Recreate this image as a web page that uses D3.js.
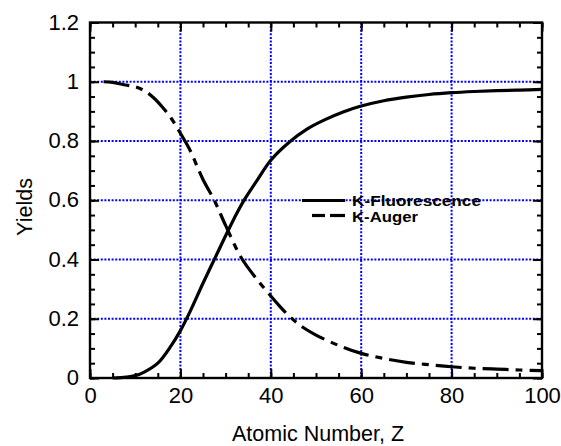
<!DOCTYPE html>
<html>
<head>
<meta charset="utf-8">
<script src="https://cdn.jsdelivr.net/npm/d3@7"></script>
<style>
  html, body { margin: 0; padding: 0; background: #fff; }
  svg { display: block; font-family: "Liberation Sans", Arial, sans-serif; }
</style>
</head>
<body>
<svg id="chart" width="561" height="446"></svg>
<script>
// ---- data ----
const zFluor = [5, 8, 10, 12, 15, 18, 20, 22, 25, 27.5, 30, 32, 34, 37, 40, 44, 48, 52, 56, 60, 65, 70, 75, 80, 85, 90, 95, 100];
const fluor  = [0, 0.003, 0.008, 0.02, 0.05, 0.11, 0.16, 0.22, 0.32, 0.40, 0.48, 0.542, 0.598, 0.668, 0.735, 0.795, 0.84, 0.872, 0.898, 0.918, 0.936, 0.948, 0.957, 0.963, 0.967, 0.970, 0.972, 0.974];
const zAuger = [3, 5, 7.5, 10, 12, 14, 16, 18, 20, 22, 25, 27.5, 30, 33.5, 37, 40, 42, 44, 47, 50, 55, 60, 65, 70, 75, 80, 85, 90, 95, 100];
const auger  = [1.0, 0.998, 0.99, 0.983, 0.97, 0.947, 0.915, 0.876, 0.826, 0.773, 0.67, 0.60, 0.515, 0.405, 0.332, 0.277, 0.242, 0.21, 0.172, 0.145, 0.11, 0.083, 0.066, 0.053, 0.045, 0.038, 0.033, 0.03, 0.027, 0.025];
const seriesNames = ["K-Fluorescence", "K-Auger"];
const xTickValues = [0, 20, 40, 60, 80, 100];
const xTickLabels = ["0", "20", "40", "60", "80", "100"];
const yTickValues = [0, 0.2, 0.4, 0.6, 0.8, 1, 1.2];
const yTickLabels = ["0", "0.2", "0.4", "0.6", "0.8", "1", "1.2"];
const xTitle = "Atomic Number, Z";
const yTitle = "Yields";

// ---- layout ----
const L = 90, R = 542, T = 22.5, B = 378;
const svg = d3.select("#chart");
const x = d3.scaleLinear().domain([0, 100]).range([L, R]);
const y = d3.scaleLinear().domain([0, 1.2]).range([B, T]);

// grid
const gridX = xTickValues.filter(v => v > 0 && v < 100);
const gridY = yTickValues.filter(v => v > 0 && v < 1.2);
const grid = svg.append("g").attr("stroke", "#0000ff").attr("stroke-width", 2).attr("stroke-dasharray", "2,1.6");
grid.selectAll("line.gx").data(gridX).join("line")
  .attr("x1", d => x(d)).attr("x2", d => x(d)).attr("y1", T).attr("y2", B);
grid.selectAll("line.gy").data(gridY).join("line")
  .attr("y1", d => y(d)).attr("y2", d => y(d)).attr("x1", L).attr("x2", R);

// curves
const line = d3.line().x(d => x(d[0])).y(d => y(d[1])).curve(d3.curveCatmullRom.alpha(0.5));
svg.append("path").datum(zFluor.map((z, i) => [z, fluor[i]]))
  .attr("d", line).attr("fill", "none").attr("stroke", "#000").attr("stroke-width", 3.2);
svg.append("path").datum(zAuger.map((z, i) => [z, auger[i]]))
  .attr("d", line).attr("fill", "none").attr("stroke", "#000").attr("stroke-width", 3.2)
  .attr("stroke-dasharray", "26,7,7,7");

// axes ticks (inward)
const minorX = d3.range(0, 101, 5);
const minorY = d3.range(0, 1.2001, 0.05);
function addAxis(axisGen, transform) {
  const g = svg.append("g").attr("transform", transform).call(axisGen);
  g.select(".domain").remove();
  g.selectAll(".tick line").attr("stroke", "#000").attr("stroke-width", 2);
  return g;
}
addAxis(d3.axisBottom(x).tickValues(minorX).tickSize(-5).tickFormat(""), `translate(0,${B})`);
addAxis(d3.axisBottom(x).tickValues(xTickValues).tickSize(-9).tickFormat(""), `translate(0,${B})`);
addAxis(d3.axisTop(x).tickValues(minorX).tickSize(-5).tickFormat(""), `translate(0,${T})`);
addAxis(d3.axisTop(x).tickValues(xTickValues).tickSize(-9).tickFormat(""), `translate(0,${T})`);
addAxis(d3.axisLeft(y).tickValues(minorY).tickSize(-5).tickFormat(""), `translate(${L},0)`);
addAxis(d3.axisLeft(y).tickValues(yTickValues).tickSize(-9).tickFormat(""), `translate(${L},0)`);
addAxis(d3.axisRight(y).tickValues(minorY).tickSize(-5).tickFormat(""), `translate(${R},0)`);
addAxis(d3.axisRight(y).tickValues(yTickValues).tickSize(-9).tickFormat(""), `translate(${R},0)`);

// frame
svg.append("rect").attr("x", L).attr("y", T).attr("width", R - L).attr("height", B - T)
  .attr("fill", "none").attr("stroke", "#000").attr("stroke-width", 2.4);

// tick labels
const xl = svg.append("g").attr("transform", `translate(0,${B})`)
  .call(d3.axisBottom(x).tickValues(xTickValues).tickSize(0).tickPadding(0)
    .tickFormat((d, i) => xTickLabels[i]));
xl.select(".domain").remove();
xl.selectAll("text").attr("font-size", 22).attr("font-family", "Liberation Sans, Arial, sans-serif")
  .attr("fill", "#000").attr("dy", null).attr("y", 25);

const yl = svg.append("g").attr("transform", `translate(${L},0)`)
  .call(d3.axisLeft(y).tickValues(yTickValues).tickSize(0).tickPadding(11)
    .tickFormat((d, i) => yTickLabels[i]));
yl.select(".domain").remove();
yl.selectAll("text").attr("font-size", 22).attr("font-family", "Liberation Sans, Arial, sans-serif")
  .attr("fill", "#000").attr("dy", "0.3em");

// axis titles
svg.append("text").attr("x", 318).attr("y", 441).attr("text-anchor", "middle")
  .attr("font-size", 21.5).text(xTitle);
svg.append("text").attr("transform", "translate(32,207) rotate(-90)").attr("text-anchor", "middle")
  .attr("font-size", 21.5).text(yTitle);

// legend
const lg = svg.append("g");
lg.append("line").attr("x1", 302).attr("x2", 345).attr("y1", 200.5).attr("y2", 200.5)
  .attr("stroke", "#000").attr("stroke-width", 3.2);
lg.append("line").attr("x1", 312).attr("x2", 325).attr("y1", 215.5).attr("y2", 215.5)
  .attr("stroke", "#000").attr("stroke-width", 3.2);
lg.append("line").attr("x1", 330).attr("x2", 345).attr("y1", 215.5).attr("y2", 215.5)
  .attr("stroke", "#000").attr("stroke-width", 3.2);
lg.selectAll("text").data(seriesNames).join("text")
  .attr("x", 352).attr("y", (d, i) => 205.5 + i * 16)
  .attr("font-size", 14).attr("font-weight", "bold")
  .attr("textLength", (d, i) => i === 0 ? 129 : 66).attr("lengthAdjust", "spacingAndGlyphs")
  .text(d => d);
</script>
</body>
</html>
